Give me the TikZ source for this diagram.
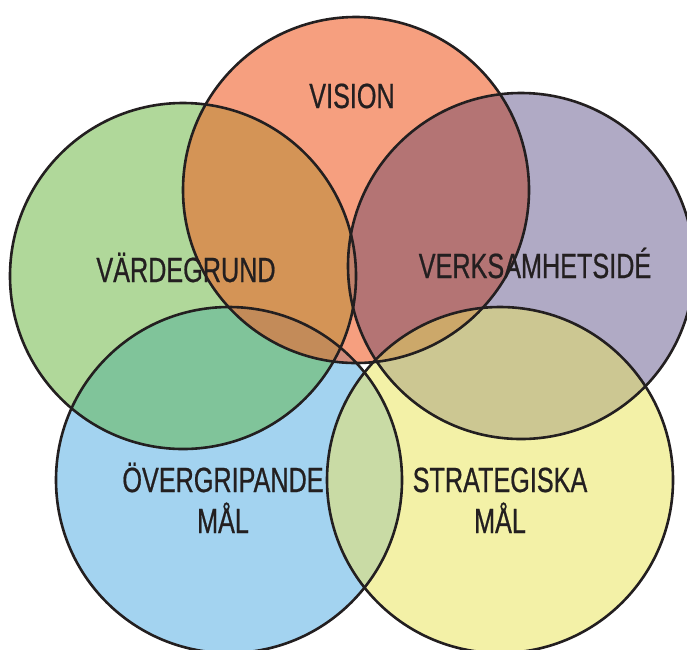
\documentclass[tikz,border=0pt]{standalone}
\usepackage{fontspec}
\newfontfamily\condfont[FakeStretch=0.72,FakeBold=0.6]{Liberation Sans}
\usepackage{tikz}
\usetikzlibrary{positioning}

\definecolor{edge}{HTML}{231F20}
\definecolor{visC}{HTML}{F69F7F}
\definecolor{grnC}{HTML}{B0D89A}
\definecolor{purC}{HTML}{B0AAC5}
\definecolor{bluC}{HTML}{A3D3F0}
\definecolor{yelC}{HTML}{F3F1A7}
% overlaps
\definecolor{vgC}{HTML}{D49456}
\definecolor{vpC}{HTML}{B47474}
\definecolor{gbC}{HTML}{80C49A}
\definecolor{byC}{HTML}{C9DBA5}
\definecolor{pyC}{HTML}{CCC792}
\definecolor{vbC}{HTML}{D18C7C}
\definecolor{vyC}{HTML}{E8B07E}
\definecolor{vgbC}{HTML}{C38B59}
\definecolor{vpyC}{HTML}{CCA86A}
\definecolor{vgpC}{HTML}{C0806A}

\begin{document}
\begin{tikzpicture}[x=1pt,y=-1pt,
  ring/.style={draw=edge, line width=2.6pt},
  lbl/.style={font=\condfont\fontsize{35}{41}\selectfont, text=edge, inner sep=0pt, align=center, anchor=base}]
\clip (0,0) rectangle (687,649);
\fill[white] (0,0) rectangle (687,649);
\def\rr{173pt}

% centres of the circles
\coordinate (cv) at (356,190);
\coordinate (cg) at (183,276);
\coordinate (cp) at (521,266);
\coordinate (cb) at (229,480);
\coordinate (cy) at (500,480);

% plain circles
\foreach \c/\col in {cg/grnC, cv/visC, cp/purC, cb/bluC, cy/yelC}
  \fill[\col] (\c) circle[radius=\rr];

% two-way overlaps
\foreach \a/\b/\col in {cv/cg/vgC, cv/cp/vpC, cg/cb/gbC, cb/cy/byC, cp/cy/pyC, cv/cb/vbC, cv/cy/vyC, cg/cp/vgpC}{
  \begin{scope}
    \clip (\a) circle[radius=\rr];
    \fill[\col] (\b) circle[radius=\rr];
  \end{scope}
}

% three-way overlaps
\foreach \a/\b/\c/\col in {cv/cg/cb/vgbC, cv/cp/cy/vpyC, cv/cg/cp/vgpC}{
  \begin{scope}
    \clip (\a) circle[radius=\rr];
    \clip (\b) circle[radius=\rr];
    \fill[\col] (\c) circle[radius=\rr];
  \end{scope}
}

% outlines
\foreach \c in {cg,cv,cp,cb,cy}
  \draw[ring] (\c) circle[radius=\rr];

% labels
\node[lbl] (vision) at (352,108) {VISION};
\node[lbl] (vardegrund) at (186,282) {VÄRDEGRUND};
\node[lbl] (verksamhet) at (535,278) {VERKSAMHETSIDÉ};
\node[lbl] (overgripande) at (223,533) {ÖVERGRIPANDE\\MÅL};
\node[lbl] (strategiska) at (500,533) {STRATEGISKA\\MÅL};
\end{tikzpicture}
\end{document}
